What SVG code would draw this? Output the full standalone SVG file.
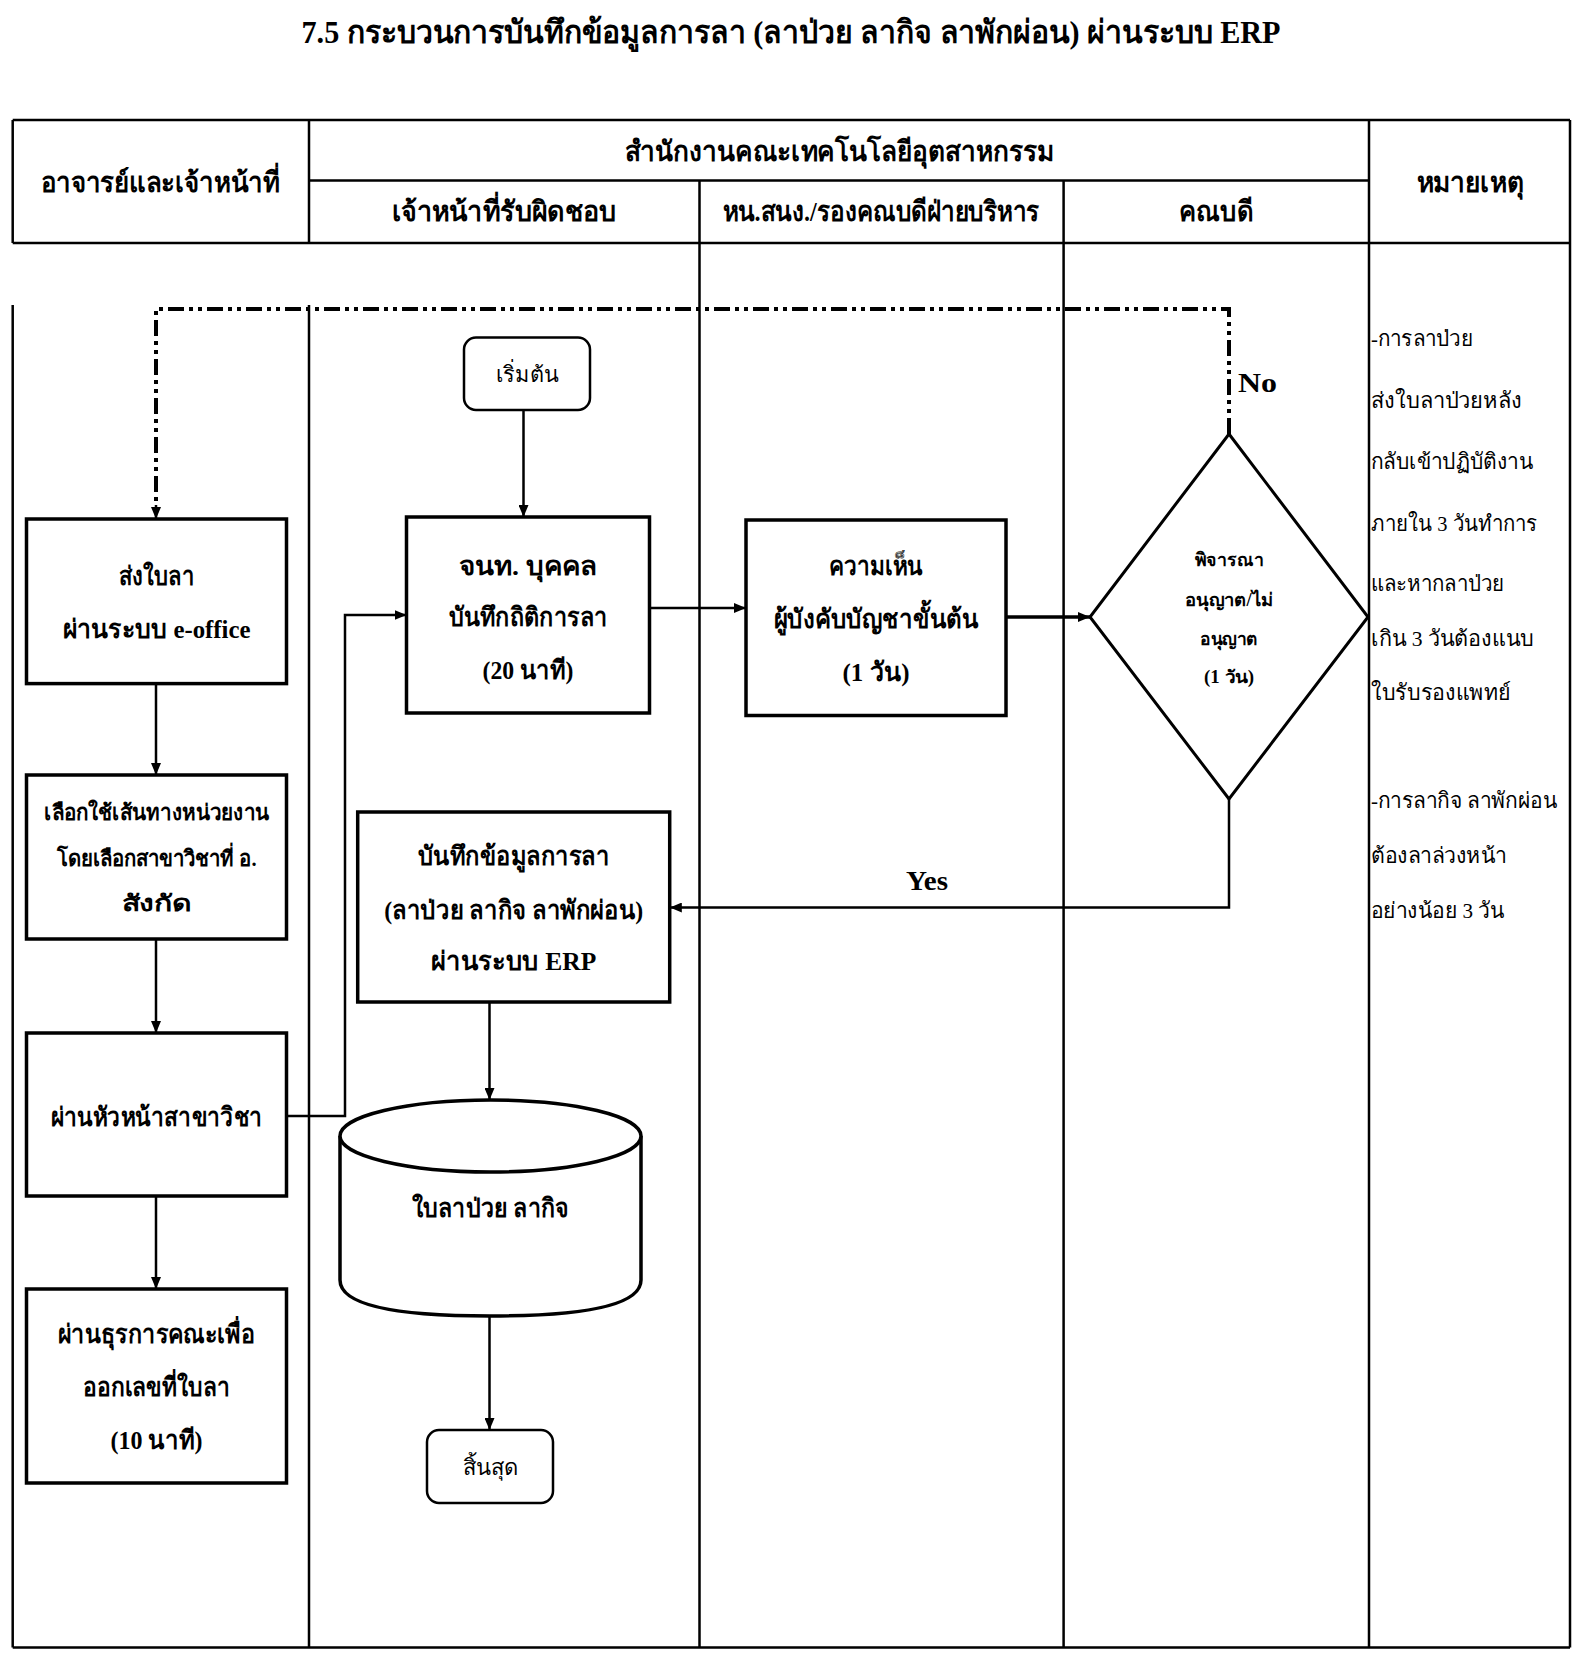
<svg xmlns="http://www.w3.org/2000/svg" width="1588" height="1664" viewBox="0 0 1588 1664">
<defs>
<marker id="arr" viewBox="0 0 12 10" refX="12" refY="5" markerWidth="12" markerHeight="10" markerUnits="userSpaceOnUse" orient="auto"><path d="M0,0 L12,5 L0,10 z" fill="#000"/></marker>
<style>
.tbl{stroke:#000;stroke-width:2.5;fill:none}
.box{stroke:#000;stroke-width:3.5;fill:#fff}
.term{stroke:#000;stroke-width:2.5;fill:#fff}
.con{stroke:#000;stroke-width:2.5;fill:none}
.dd{stroke:#000;stroke-width:4;fill:none;stroke-dasharray:16 5 4 5 4 5}
text{font-family:"Liberation Serif","Noto Sans",serif;fill:#000}
.h{font-size:28px;font-weight:bold;text-anchor:middle}
.t{font-size:32px;font-weight:bold;text-anchor:middle}
.b{font-size:26px;font-weight:bold;text-anchor:middle}
.s{font-size:22px;font-weight:bold;text-anchor:middle}
.d{font-size:18px;font-weight:bold;text-anchor:middle}
.r{font-size:22px;text-anchor:middle}
.n{font-size:22px}
.lab{font-size:28px;font-weight:bold}
</style>
</defs>
<rect width="1588" height="1664" fill="#fff"/>
<text class="t" x="791" y="43" textLength="979" lengthAdjust="spacingAndGlyphs">7.5 กระบวนการบันทึกข้อมูลการลา (ลาป่วย ลากิจ ลาพักผ่อน) ผ่านระบบ ERP</text>
<g id="table">
<path class="tbl" d="M12.7,120 H1570 M309,180.5 H1369 M12.7,243 H1570 M12.7,120 V243 M309,120 V243 M1369,120 V1647.5 M1570,120 V1647.5 M699.5,180.5 V1647.5 M1063.6,180.5 V1647.5 M12.7,305 V1647.5 M309,305 V1647.5 M12.7,1647.5 H1570"/>
<text class="h" x="160" y="192" textLength="239" lengthAdjust="spacingAndGlyphs">อาจารย์และเจ้าหน้าที่</text>
<text class="h" x="839" y="161" textLength="429" lengthAdjust="spacingAndGlyphs">สำนักงานคณะเทคโนโลยีอุตสาหกรรม</text>
<text class="h" x="504" y="221" textLength="225" lengthAdjust="spacingAndGlyphs">เจ้าหน้าที่รับผิดชอบ</text>
<text class="h" x="881" y="221" textLength="317" lengthAdjust="spacingAndGlyphs">หน.สนง./รองคณบดีฝ่ายบริหาร</text>
<text class="h" x="1216" y="221" textLength="74" lengthAdjust="spacingAndGlyphs">คณบดี</text>
<text class="h" x="1470" y="192" textLength="107" lengthAdjust="spacingAndGlyphs">หมายเหตุ</text>
</g>
<g id="notes">
<text class="n" x="1371" y="346" textLength="102" lengthAdjust="spacingAndGlyphs">-การลาป่วย</text>
<text class="n" x="1371" y="408" textLength="151" lengthAdjust="spacingAndGlyphs">ส่งใบลาป่วยหลัง</text>
<text class="n" x="1371" y="469" textLength="162" lengthAdjust="spacingAndGlyphs">กลับเข้าปฏิบัติงาน</text>
<text class="n" x="1371" y="531" textLength="166" lengthAdjust="spacingAndGlyphs">ภายใน 3 วันทำการ</text>
<text class="n" x="1371" y="591" textLength="133" lengthAdjust="spacingAndGlyphs">และหากลาป่วย</text>
<text class="n" x="1371" y="646" textLength="163" lengthAdjust="spacingAndGlyphs">เกิน 3 วันต้องแนบ</text>
<text class="n" x="1371" y="700" textLength="140" lengthAdjust="spacingAndGlyphs">ใบรับรองแพทย์</text>
<text class="n" x="1371" y="808" textLength="186" lengthAdjust="spacingAndGlyphs">-การลากิจ ลาพักผ่อน</text>
<text class="n" x="1371" y="863" textLength="136" lengthAdjust="spacingAndGlyphs">ต้องลาล่วงหน้า</text>
<text class="n" x="1371" y="918" textLength="133" lengthAdjust="spacingAndGlyphs">อย่างน้อย 3 วัน</text>
</g>
<g id="connectors">
<path class="dd" d="M1229,434 V309 H156 V505"/>
<path class="con" d="M156,505 V519" marker-end="url(#arr)"/>
<text class="lab" x="1238" y="392" textLength="39" lengthAdjust="spacingAndGlyphs">No</text>
<path class="con" d="M156,683.6 V775" marker-end="url(#arr)"/>
<path class="con" d="M156,939 V1033" marker-end="url(#arr)"/>
<path class="con" d="M156,1196 V1289" marker-end="url(#arr)"/>
<path class="con" d="M286.6,1116 H345 V615 H406.5" marker-end="url(#arr)"/>
<path class="con" d="M523.5,410 V517" marker-end="url(#arr)"/>
<path class="con" d="M649.6,608 H746" marker-end="url(#arr)"/>
<path class="con" style="stroke-width:3.5" d="M1006,617 H1090" marker-end="url(#arr)"/>
<path class="con" d="M1229,799 V907.5 H669.8" marker-end="url(#arr)"/>
<text class="lab" x="927" y="890" text-anchor="middle" textLength="42" lengthAdjust="spacingAndGlyphs">Yes</text>
<path class="con" d="M489.5,1002 V1100" marker-end="url(#arr)"/>
<path class="con" d="M489.5,1316 V1430" marker-end="url(#arr)"/>
</g>
<g id="n-send">
<rect class="box" x="26.5" y="519" width="260" height="164.6"/>
<text class="b" x="156.5" y="585" textLength="76" lengthAdjust="spacingAndGlyphs">ส่งใบลา</text>
<text class="b" x="156.5" y="638" textLength="188" lengthAdjust="spacingAndGlyphs">ผ่านระบบ e-office</text>
</g>
<g id="n-route">
<rect class="box" x="26.5" y="775" width="260" height="164"/>
<text class="s" x="156.5" y="820" textLength="225" lengthAdjust="spacingAndGlyphs">เลือกใช้เส้นทางหน่วยงาน</text>
<text class="s" x="156.5" y="866" textLength="200" lengthAdjust="spacingAndGlyphs">โดยเลือกสาขาวิชาที่ อ.</text>
<text class="s" x="156.5" y="911" textLength="70" lengthAdjust="spacingAndGlyphs">สังกัด</text>
</g>
<g id="n-head">
<rect class="box" x="26.5" y="1033" width="260" height="163"/>
<text class="b" x="156.5" y="1126" textLength="212" lengthAdjust="spacingAndGlyphs">ผ่านหัวหน้าสาขาวิชา</text>
</g>
<g id="n-admin">
<rect class="box" x="26.5" y="1289" width="260" height="194"/>
<text class="b" x="156.5" y="1343" textLength="197" lengthAdjust="spacingAndGlyphs">ผ่านธุรการคณะเพื่อ</text>
<text class="b" x="156.5" y="1396" textLength="148" lengthAdjust="spacingAndGlyphs">ออกเลขที่ใบลา</text>
<text class="b" x="156.5" y="1449" textLength="92" lengthAdjust="spacingAndGlyphs">(10 นาที)</text>
</g>
<g id="n-start">
<rect class="term" x="464" y="337.5" width="126" height="72.5" rx="12"/>
<text class="r" x="527" y="382" textLength="63" lengthAdjust="spacingAndGlyphs">เริ่มต้น</text>
</g>
<g id="n-record">
<rect class="box" x="406.5" y="517" width="243" height="196"/>
<text class="b" x="528" y="575" textLength="139" lengthAdjust="spacingAndGlyphs">จนท. บุคคล</text>
<text class="b" x="528" y="626" textLength="159" lengthAdjust="spacingAndGlyphs">บันทึกถิติการลา</text>
<text class="b" x="528" y="679" textLength="91" lengthAdjust="spacingAndGlyphs">(20 นาที)</text>
</g>
<g id="n-opinion">
<rect class="box" x="746" y="520" width="260" height="195.5"/>
<text class="b" x="876" y="575" textLength="94" lengthAdjust="spacingAndGlyphs">ความเห็น</text>
<text class="b" x="876" y="628" textLength="205" lengthAdjust="spacingAndGlyphs">ผู้บังคับบัญชาขั้นต้น</text>
<text class="b" x="876" y="681" textLength="67" lengthAdjust="spacingAndGlyphs">(1 วัน)</text>
</g>
<g id="n-decide">
<path class="box" style="stroke-width:3" d="M1229,434 L1368,617 L1229,799 L1090,617 z"/>
<text class="d" x="1229" y="566" textLength="69" lengthAdjust="spacingAndGlyphs">พิจารณา</text>
<text class="d" x="1229" y="606" textLength="88" lengthAdjust="spacingAndGlyphs">อนุญาต/ไม่</text>
<text class="d" x="1229" y="645" textLength="58" lengthAdjust="spacingAndGlyphs">อนุญาต</text>
<text class="d" x="1229" y="683" textLength="50" lengthAdjust="spacingAndGlyphs">(1 วัน)</text>
</g>
<g id="n-erp">
<rect class="box" x="357.7" y="812" width="312" height="190"/>
<text class="b" x="513.7" y="865" textLength="192" lengthAdjust="spacingAndGlyphs">บันทึกข้อมูลการลา</text>
<text class="b" x="513.7" y="919" textLength="259" lengthAdjust="spacingAndGlyphs">(ลาป่วย ลากิจ ลาพักผ่อน)</text>
<text class="b" x="513.7" y="970" textLength="165" lengthAdjust="spacingAndGlyphs">ผ่านระบบ  ERP</text>
</g>
<g id="n-db">
<path class="box" d="M340,1136 V1280 Q340,1316 490,1316 Q641,1316 641,1280 V1136"/>
<ellipse class="box" cx="490.5" cy="1136" rx="150.5" ry="36"/>
<text class="b" x="490" y="1217" textLength="157" lengthAdjust="spacingAndGlyphs">ใบลาป่วย ลากิจ</text>
</g>
<g id="n-end">
<rect class="term" x="427" y="1430" width="126" height="73" rx="12"/>
<text class="r" x="490" y="1475" textLength="55" lengthAdjust="spacingAndGlyphs">สิ้นสุด</text>
</g>
</svg>
